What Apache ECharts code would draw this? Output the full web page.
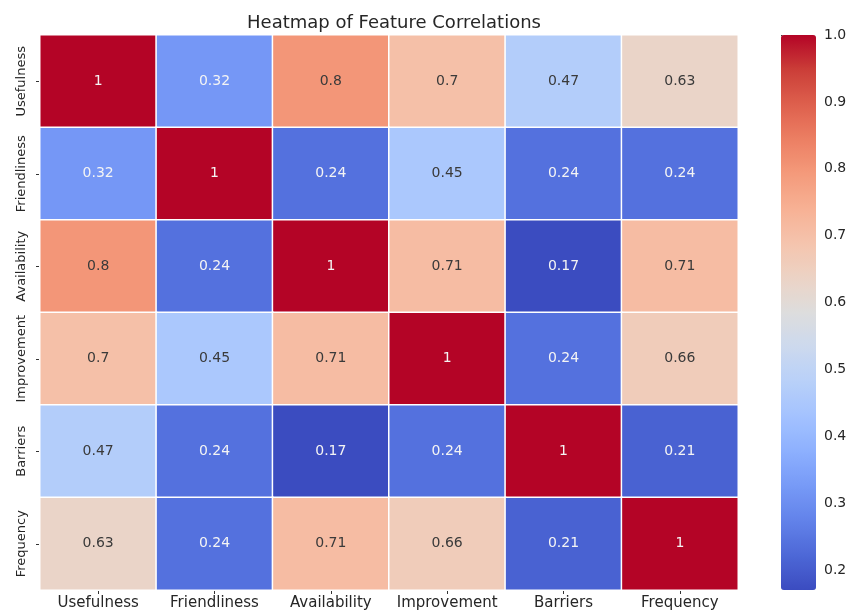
<!DOCTYPE html>
<html>
<head>
<meta charset="utf-8">
<title>Heatmap of Feature Correlations</title>
<script src="https://cdn.jsdelivr.net/npm/echarts@6/dist/echarts.min.js"></script>
<style>
  html, body { margin: 0; padding: 0; background: #ffffff; }
  #chart { width: 856px; height: 611px; }
</style>
</head>
<body>
<div id="chart"></div>
<script>
// Feature names (rows top to bottom, columns left to right)
const features = ['Usefulness', 'Friendliness', 'Availability', 'Improvement', 'Barriers', 'Frequency'];

// Correlation matrix, one row per feature
const rowUsefulness   = [1, 0.32, 0.8, 0.7, 0.47, 0.63];
const rowFriendliness = [0.32, 1, 0.24, 0.45, 0.24, 0.24];
const rowAvailability = [0.8, 0.24, 1, 0.71, 0.17, 0.71];
const rowImprovement  = [0.7, 0.45, 0.71, 1, 0.24, 0.66];
const rowBarriers     = [0.47, 0.24, 0.17, 0.24, 1, 0.21];
const rowFrequency    = [0.63, 0.24, 0.71, 0.66, 0.21, 1];

// Colour bar range and tick labels
const scaleMin = 0.17;
const scaleMax = 1.0;
const colorbarTicks = [0.2, 0.3, 0.4, 0.5, 0.6, 0.7, 0.8, 0.9, 1.0];

// coolwarm colour ramp, evenly spaced from low to high
const coolwarm = [
  '#3b4cc0', '#4d68d7', '#6282ea', '#779af7', '#8db0fe', '#a3c2ff',
  '#b8d0f9', '#ccd9ee', '#dddddd', '#ecd3c5', '#f5c4ad', '#f7b194',
  '#f49a7b', '#ec7f63', '#de604d', '#cb3e38', '#b40426'
];

const matrix = [rowUsefulness, rowFriendliness, rowAvailability, rowImprovement, rowBarriers, rowFrequency];

// Light text on saturated cells, dark text on pale ones
const cells = [];
matrix.forEach(function (row, r) {
  row.forEach(function (v, c) {
    const dark = v < 0.36 || v > 0.9;
    cells.push({
      value: [c, r, v],
      label: { color: dark ? '#f4f4f4' : '#3a3a3a' }
    });
  });
});

const font = 'DejaVu Sans';
const chart = echarts.init(document.getElementById('chart'), null, { renderer: 'canvas' });

chart.setOption({
  animation: false,
  backgroundColor: '#ffffff',
  title: {
    text: 'Heatmap of Feature Correlations',
    left: 389,
    top: 9,
    textAlign: 'center',
    textStyle: { fontFamily: font, fontSize: 18, fontWeight: 'normal', color: '#262626' }
  },
  grid: [
    { left: 40, top: 35, width: 698, height: 555 },
    { left: 781, top: 35, width: 35, height: 555 }
  ],
  xAxis: [
    {
      type: 'category',
      gridIndex: 0,
      data: features,
      position: 'bottom',
      axisLine: { show: false },
      axisTick: { show: true, interval: 0, alignWithLabel: true, length: 4, lineStyle: { color: '#333333' } },
      axisLabel: { interval: 0, margin: 6, fontFamily: font, fontSize: 15, color: '#262626' },
      splitLine: { show: false }
    },
    {
      type: 'value',
      gridIndex: 1,
      show: false,
      min: 0,
      max: 1
    }
  ],
  yAxis: [
    {
      type: 'category',
      gridIndex: 0,
      data: features,
      inverse: true,
      axisLine: { show: false },
      axisTick: { show: true, interval: 0, alignWithLabel: true, length: 4, lineStyle: { color: '#333333' } },
      axisLabel: { interval: 0, rotate: 90, margin: 12, fontFamily: font, fontSize: 13, color: '#262626' },
      splitLine: { show: false }
    },
    {
      type: 'value',
      gridIndex: 1,
      position: 'right',
      min: scaleMin,
      max: scaleMax,
      axisLine: { show: false },
      splitLine: { show: false },
      axisTick: {
        show: true,
        length: 4,
        customValues: colorbarTicks,
        lineStyle: { color: '#333333' }
      },
      axisLabel: {
        margin: 8,
        customValues: colorbarTicks,
        formatter: function (v) { return Number(v).toFixed(1); },
        fontFamily: font,
        fontSize: 14,
        color: '#262626'
      }
    }
  ],
  visualMap: {
    type: 'continuous',
    min: scaleMin,
    max: scaleMax,
    calculable: false,
    seriesIndex: 0,
    orient: 'vertical',
    left: 781,
    top: 35,
    padding: 0,
    itemWidth: 35,
    itemHeight: 555,
    text: null,
    showLabel: false,
    hoverLink: false,
    inRange: { color: coolwarm }
  },
  series: [
    {
      type: 'heatmap',
      xAxisIndex: 0,
      yAxisIndex: 0,
      data: cells,
      itemStyle: { borderColor: '#ffffff', borderWidth: 1.5 },
      label: {
        show: true,
        fontFamily: font,
        fontSize: 14,
        formatter: function (p) { return String(p.value[2]); }
      },
      emphasis: { disabled: true }
    }
  ]
});
</script>
</body>
</html>
